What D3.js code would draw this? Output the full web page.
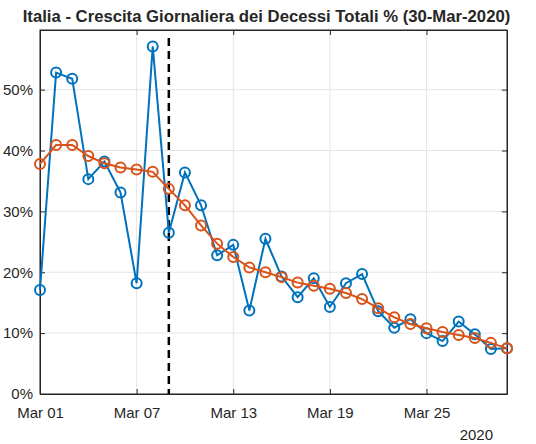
<!DOCTYPE html>
<html>
<head>
<meta charset="utf-8">
<script src="https://cdn.jsdelivr.net/npm/d3@7"></script>
<style>
  body { margin: 0; background: #fff; }
  text { font-family: "Liberation Sans", Arial, sans-serif; fill: #262626; }
</style>
</head>
<body>
<script>
// dati (30 giorni, 1-30 marzo 2020)
const startDate = new Date(2020, 2, 1)
const giornaliera = [17.1, 52.8, 51.8, 35.3, 38.2, 33.1, 18.2, 57.1, 26.5, 36.4,
                     31.0, 22.8, 24.5, 13.7, 25.5, 19.3, 15.9, 19.0, 14.3, 18.2,
                     19.7, 13.6, 10.9, 12.3, 10.0, 8.7, 11.9, 9.8, 7.4, 7.5]
const media = [37.8, 40.9, 40.9, 39.1, 37.9, 37.2, 36.9, 36.5, 33.7, 31.0,
               27.7, 24.7, 22.5, 20.8, 20.0, 19.2, 18.3, 17.8, 17.3, 16.6,
               15.6, 14.1, 12.6, 11.5, 10.8, 10.2, 9.7, 9.2, 8.4, 7.5]
const yTicks = [0, 10, 20, 30, 40, 50]
const lockdown = new Date(2020, 2, 9)
const titolo = "Italia - Crescita Giornaliera dei Decessi Totali % (30-Mar-2020)"

const dates = giornaliera.map((d, i) => d3.timeDay.offset(startDate, i))

const W = 536, H = 444
const m = {left: 40, right: 29, top: 30, bottom: 50}

const svg = d3.select("body").append("svg")
        .attr("width", W)
        .attr("height", H)

const x = d3.scaleTime()
        .domain([startDate, dates[dates.length - 1]])
        .range([m.left, W - m.right])

const y = d3.scaleLinear()
        .domain([0, 59.8])
        .range([H - m.bottom, m.top])

const xTicks = d3.range(0, 30, 6).map(i => d3.timeDay.offset(startDate, i))

// griglia
const grid = svg.append("g")
grid.selectAll(".gx").data(xTicks).enter().append("line")
        .attr("x1", d => x(d)).attr("x2", d => x(d))
        .attr("y1", m.top).attr("y2", H - m.bottom)
        .attr("stroke", "#e6e6e6").attr("stroke-width", 1)
grid.selectAll(".gy").data(yTicks).enter().append("line")
        .attr("x1", m.left).attr("x2", W - m.right)
        .attr("y1", d => y(d)).attr("y2", d => y(d))
        .attr("stroke", "#e6e6e6").attr("stroke-width", 1)

// assi
const fmt = d3.timeFormat("%b %d")
const xAxis = svg.append("g")
        .attr("transform", `translate(0,${H - m.bottom})`)
        .call(d3.axisBottom(x).tickValues(xTicks).tickFormat(fmt).tickSizeInner(-5).tickSizeOuter(0).tickPadding(13))
const xTop = svg.append("g")
        .attr("transform", `translate(0,${m.top})`)
        .call(d3.axisTop(x).tickValues(xTicks).tickFormat("").tickSizeInner(-5).tickSizeOuter(0))
const yAxis = svg.append("g")
        .attr("transform", `translate(${m.left},0)`)
        .call(d3.axisLeft(y).tickValues(yTicks).tickFormat(d => d + "%").tickSizeInner(-5).tickSizeOuter(0).tickPadding(7))
const yRight = svg.append("g")
        .attr("transform", `translate(${W - m.right},0)`)
        .call(d3.axisRight(y).tickValues(yTicks).tickFormat("").tickSizeInner(-5).tickSizeOuter(0))

svg.selectAll(".domain, .tick line").attr("stroke", "#262626")
svg.selectAll(".tick text").style("font-size", "15px").attr("fill", "#262626")

// bordo
svg.append("rect")
        .attr("x", m.left).attr("y", m.top)
        .attr("width", W - m.left - m.right).attr("height", H - m.top - m.bottom)
        .attr("fill", "none").attr("stroke", "#262626").attr("stroke-width", 1)

svg.append("text")
        .attr("x", x(dates[dates.length - 1]) - 14)
        .attr("y", 440)
        .attr("text-anchor", "end")
        .style("font-size", "15px")
        .text("2020")

// linea lockdown
svg.append("line")
        .attr("x1", x(lockdown)).attr("x2", x(lockdown))
        .attr("y1", m.top + 8).attr("y2", H - m.bottom)
        .attr("stroke", "#000").attr("stroke-width", 2.5)
        .attr("stroke-dasharray", "8,5")

// serie
const serie = [
  {values: giornaliera, color: "#0072BD"},
  {values: media, color: "#D95319"}
]
const line = d3.line().x((d, i) => x(dates[i])).y(d => y(d))

serie.forEach(s => {
  const g = svg.append("g")
  g.append("path")
        .datum(s.values)
        .attr("d", line)
        .attr("fill", "none")
        .attr("stroke", s.color)
        .attr("stroke-width", 2)
  g.selectAll("circle").data(s.values).enter().append("circle")
        .attr("cx", (d, i) => x(dates[i]))
        .attr("cy", d => y(d))
        .attr("r", 5)
        .attr("fill", "none")
        .attr("stroke", s.color)
        .attr("stroke-width", 2)
})

// titolo
svg.append("text")
        .attr("x", (m.left + W - m.right) / 2 - 7)
        .attr("y", 22)
        .attr("text-anchor", "middle")
        .style("font-size", "16.7px")
        .style("font-weight", "bold")
        .attr("fill", "#000")
        .text(titolo)
</script>
</body>
</html>
